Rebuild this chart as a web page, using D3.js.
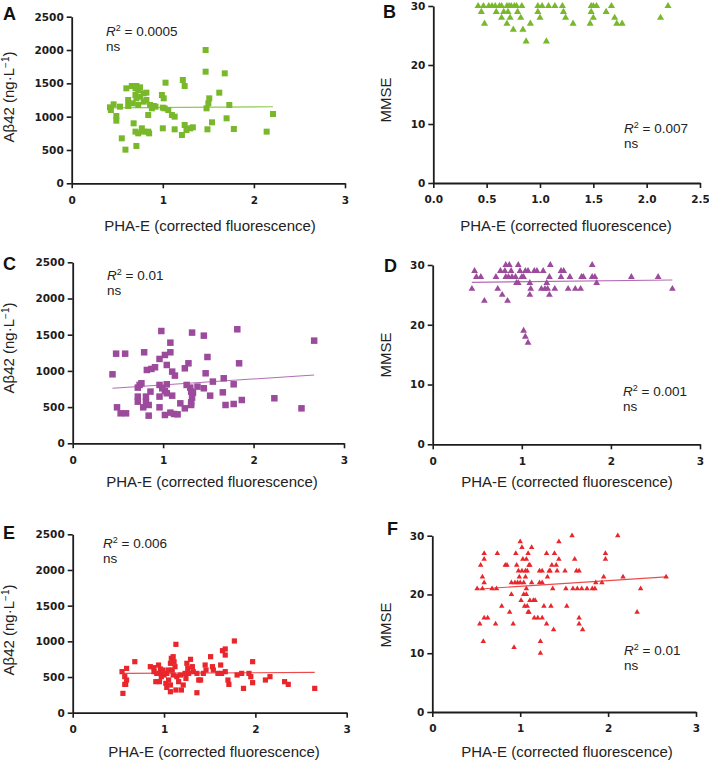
<!DOCTYPE html>
<html><head><meta charset="utf-8">
<script src="https://cdn.jsdelivr.net/npm/d3@7/dist/d3.min.js"></script>
<style>
body{margin:0;background:#fff;}
svg{display:block;}
</style></head>
<body>
<svg id="chart" width="709" height="762"></svg>
<script>
// ---------- DATA ----------
const abTicks = [0, 500, 1000, 1500, 2000, 2500];
const mmseTicks = [0, 10, 20, 30];
const xTicks3 = [0, 1, 2, 3];
const xTicksB = [0, 0.5, 1.0, 1.5, 2.0, 2.5];

const aX = [0.42,0.46,0.43,0.49,0.49,0.55,0.59,0.53,0.60,0.62,0.62,0.66,0.70,0.71,0.73,0.75,0.70,0.71,0.67,0.73,0.68,0.70,0.73,0.71,0.77,0.79,0.75,0.79,0.82,0.79,0.82,0.84,0.84,0.85,0.86,0.90,0.92,0.88,0.99,1.01,1.03,1.00,1.02,1.06,1.10,1.13,1.00,1.13,1.21,1.22,1.24,1.24,1.26,1.30,1.33,1.47,1.47,1.48,1.50,1.51,1.49,1.54,1.62,1.68,1.70,1.73,1.78,2.14,2.21];
const aY = [1140,1185,1100,1010,940,675,505,1150,1425,1250,1160,1460,1425,1460,1400,1440,1325,1275,1200,1175,900,775,750,560,825,775,1300,1350,1360,1225,1250,1025,775,750,1175,1160,1150,1125,1325,1275,1510,1135,1125,1100,1025,1000,825,810,725,1550,1460,875,800,825,840,2000,1675,1125,1200,1275,810,915,1360,1650,975,1175,815,775,1040];
const aTrend = [[0.41, 1132], [2.21, 1148]];

const bX = [0.42,0.47,0.52,0.55,0.58,0.62,0.64,0.69,0.71,0.73,0.76,0.78,0.83,0.98,1.02,1.08,1.14,1.21,1.48,1.50,1.53,1.67,2.20,
            0.45,0.59,0.66,0.70,0.79,0.98,1.22,1.48,1.62,
            0.64,0.72,0.82,1.00,1.24,1.50,1.70,2.13,
            0.48,0.69,0.91,1.31,1.47,1.72,1.77,
            0.75,0.84,
            0.87,1.06];
const bY = [30,30,30,30,30,30,30,30,30,30,30,30,30,30,30,30,30,30,30,30,30,30,30,
            29,29,29,29,29,29,29,29,29,
            28,28,28,28,28,28,28,28,
            27,27,27,27,27,27,27,
            26,26,
            24,24];

const cX = [0.44,0.48,0.58,0.49,0.53,0.59,0.79,0.74,0.76,0.72,0.72,0.72,0.78,0.81,0.81,0.82,0.87,0.91,0.86,0.84,0.84,0.96,0.98,1.02,1.08,1.08,1.04,1.10,1.13,0.96,0.96,0.96,1.04,1.02,1.04,1.10,0.99,1.02,1.08,1.12,1.16,1.19,1.24,1.24,1.28,1.32,1.26,1.30,1.31,1.32,1.31,1.31,1.33,1.38,1.45,1.47,1.45,1.55,1.52,1.49,1.67,1.66,1.69,1.78,1.78,1.82,1.84,1.87,2.23,2.53,2.67];
const cY = [953,1238,1238,497,414,414,1257,806,829,769,645,575,497,575,645,1013,1027,1050,714,529,382,1165,1551,1220,1257,1390,1082,990,935,806,645,497,815,723,691,658,760,391,424,405,400,552,483,1036,1105,1529,806,769,714,631,566,529,700,783,1487,967,760,852,658,1192,898,704,529,815,543,1575,1105,598,622,483,1418];
const cTrend = [[0.44, 760], [2.67, 944]];

const dX = [0.47,0.49,0.54,0.44,0.58,0.71,0.73,0.76,0.78,0.81,0.82,0.86,0.82,0.85,0.84,0.88,0.89,0.93,0.96,0.94,0.96,0.98,1.00,1.02,1.04,1.02,1.04,1.07,1.07,1.09,1.10,1.09,1.14,1.17,1.22,1.24,1.26,1.28,1.29,1.31,1.32,1.31,1.37,1.44,1.47,1.44,1.52,1.54,1.60,1.66,1.67,1.69,1.79,1.79,1.82,1.84,2.23,2.53,2.69];
const dY = [29,28,28,26,24,28,26,29,25,29,30,30,28,28,24,29,28,28,30,27,27,29,28,28,29,19,18,17,29,27,26,25,29,29,26,29,26,27,26,25,30,28,26,29,29,28,26,28,26,26,28,28,30,28,28,27,28,28,26];
const dTrend = [[0.44, 27.1], [2.69, 27.5]];

const eX = [0.54,0.55,0.57,0.59,0.58,0.59,0.57,0.68,0.85,0.89,0.89,0.91,0.92,0.94,0.96,0.97,0.95,0.99,1.00,1.02,1.03,1.05,1.03,1.07,1.07,1.07,1.08,1.09,1.10,1.11,1.12,1.13,1.14,1.13,1.16,1.18,1.19,1.21,1.23,1.25,1.26,1.24,1.29,1.31,1.32,1.36,1.36,1.38,1.40,1.43,1.45,1.51,1.53,1.54,1.59,1.62,1.64,1.67,1.67,1.67,1.63,1.70,1.71,1.77,1.80,1.85,1.87,1.93,1.95,1.97,1.97,2.11,2.16,2.32,2.36,2.65,0.97,1.05,1.10,1.27,1.46];
const eY = [575,271,505,621,397,458,397,715,645,631,575,435,551,668,612,551,435,598,528,411,551,598,355,388,294,692,762,598,528,715,645,958,505,318,435,528,318,388,551,692,621,481,748,645,575,551,280,458,458,551,668,785,645,598,551,668,869,893,808,575,551,458,397,1005,528,551,341,551,505,421,715,458,505,435,397,341,505,458,785,551,598];
const eTrend = [[0.54, 551], [2.65, 565]];

const fX = [0.51,0.54,0.55,0.57,0.57,0.58,0.59,0.59,0.59,0.59,0.63,0.68,0.72,0.73,0.74,0.79,0.83,0.85,0.88,0.90,0.90,0.92,0.93,0.94,0.95,0.96,0.97,0.98,0.99,1.00,1.00,1.01,1.02,1.02,1.03,1.04,1.04,1.05,1.06,1.06,1.07,1.07,1.07,1.08,1.08,1.09,1.09,1.10,1.10,1.11,1.11,1.13,1.13,1.15,1.16,1.17,1.20,1.22,1.22,1.23,1.23,1.25,1.25,1.25,1.27,1.30,1.30,1.31,1.33,1.34,1.35,1.36,1.37,1.38,1.39,1.41,1.42,1.44,1.44,1.51,1.52,1.53,1.59,1.60,1.62,1.64,1.65,1.67,1.67,1.67,1.70,1.71,1.76,1.82,1.85,1.86,1.93,1.95,1.97,1.97,2.11,2.17,2.33,2.37,2.66];
const fY = [21,15,25,21,23,12,27,26,22,16,16,21,15,21,27,18,25,25,17,20,22,15,11,22,27,25,22,24,23,29,22,19,28,24,26,20,22,18,23,24,26,21,20,24,18,17,27,25,17,25,19,28,22,19,16,19,16,24,22,12,10,16,24,22,18,15,27,23,24,24,18,25,21,14,27,25,24,29,26,24,21,18,30,21,26,24,21,24,16,15,21,14,21,21,21,22,22,23,26,27,30,23,17,21,23];
const fTrend = [[0.50, 20.9], [2.66, 23.0]];

// ---------- LAYOUT / STYLE ----------
const GREEN = "#78b82a", PURPLE = "#9c4a9c", RED = "#e8262b";
const yTitleAb = "Aβ42 (ng·L";
const xTitle = "PHA-E (corrected fluorescence)";
const fmtInt = d3.format("d"), fmt1 = d3.format(".1f");

const panels = [
  {letter:"A", lx:3, ly:20, xs:aX, ys:aY, trend:aTrend, xMax:3, xT:xTicks3, xFmt:fmtInt, yMax:2500, yT:abTicks, x0:71.7, x1:345, y0:183.3, y1:16.7, shape:"sq", ms:6, color:GREEN, lineColor:"#8fca52", r2:"0.0005", rx:106, ry:36, yTitle:"ab", ytx:14, yty:97, xtx:210, xty:231},
  {letter:"B", lx:383, ly:18, xs:bX, ys:bY, trend:null, xMax:2.5, xT:xTicksB, xFmt:fmt1, yMax:30, yT:mmseTicks, x0:433.3, x1:700, y0:183, y1:6, shape:"tri", ms:22, color:GREEN, lineColor:GREEN, r2:"0.007", rx:624, ry:133, yTitle:"MMSE", ytx:391, yty:100, xtx:566, xty:231},
  {letter:"C", lx:3, ly:270, xs:cX, ys:cY, trend:cTrend, xMax:3, xT:xTicks3, xFmt:fmtInt, yMax:2500, yT:abTicks, x0:72.7, x1:344, y0:443.3, y1:262.3, shape:"sq", ms:6.5, color:PURPLE, lineColor:"#b46cb4", r2:"0.01", rx:107, ry:280, yTitle:"ab", ytx:14, yty:348, xtx:212, xty:487},
  {letter:"D", lx:384, ly:272, xs:dX, ys:dY, trend:dTrend, xMax:3, xT:xTicks3, xFmt:fmtInt, yMax:30, yT:mmseTicks, x0:432.7, x1:700, y0:444.3, y1:265, shape:"tri", ms:20, color:PURPLE, lineColor:"#b46cb4", r2:"0.001", rx:623, ry:396, yTitle:"MMSE", ytx:391, yty:355, xtx:567, xty:487},
  {letter:"E", lx:3, ly:539, xs:eX, ys:eY, trend:eTrend, xMax:3, xT:xTicks3, xFmt:fmtInt, yMax:2500, yT:abTicks, x0:72.7, x1:346.7, y0:712.7, y1:534.3, shape:"sq", ms:5.2, color:RED, lineColor:"#ec4b4e", r2:"0.006", rx:103, ry:548, yTitle:"ab", ytx:14, yty:630, xtx:214, xty:757},
  {letter:"F", lx:387, ly:535, xs:fX, ys:fY, trend:fTrend, xMax:3, xT:xTicks3, xFmt:fmtInt, yMax:30, yT:mmseTicks, x0:432.3, x1:696, y0:712, y1:535.7, shape:"tri", ms:13, color:RED, lineColor:"#ec4b4e", r2:"0.01", rx:624, ry:655, yTitle:"MMSE", ytx:391, yty:625, xtx:567, xty:757}
];

const svg = d3.select("#chart");
svg.append("rect").attr("width",709).attr("height",762).attr("fill","#fff");

const textFont = "'Liberation Sans', Arial, sans-serif";
const tickFont = "'DejaVu Sans', sans-serif";
const AX = "#1c1c1c";

panels.forEach(p => {
  const g = svg.append("g");
  const x = d3.scaleLinear().domain([0, p.xMax]).range([p.x0, p.x1]);
  const y = d3.scaleLinear().domain([0, p.yMax]).range([p.y0, p.y1]);

  if (p.trend) {
    g.append("line")
      .attr("x1", x(p.trend[0][0])).attr("y1", y(p.trend[0][1]))
      .attr("x2", x(p.trend[1][0])).attr("y2", y(p.trend[1][1]))
      .attr("stroke", p.lineColor).attr("stroke-width", 1.1);
  }

  const pts = p.xs.map((v,i)=>[v, p.ys[i]]);
  if (p.shape === "sq") {
    g.selectAll("rect.pt").data(pts).join("rect")
      .attr("x", d => x(d[0]) - p.ms/2).attr("y", d => y(d[1]) - p.ms/2)
      .attr("width", p.ms).attr("height", p.ms).attr("fill", p.color);
  } else {
    const sym = d3.symbol(d3.symbolTriangle, p.ms);
    g.selectAll("path.pt").data(pts).join("path")
      .attr("transform", d => `translate(${x(d[0])},${y(d[1])})`)
      .attr("d", sym).attr("fill", p.color);
  }

  const ya = g.append("g").attr("transform", `translate(${p.x0},0)`)
    .call(d3.axisLeft(y).tickValues(p.yT).tickFormat(fmtInt).tickSize(5).tickPadding(3).tickSizeOuter(0));
  const xa = g.append("g").attr("transform", `translate(0,${p.y0})`)
    .call(d3.axisBottom(x).tickValues(p.xT).tickFormat(p.xFmt).tickSize(5).tickPadding(8).tickSizeOuter(0));
  [ya, xa].forEach(a => {
    a.select(".domain").attr("stroke", AX).attr("stroke-width", 1.8);
    a.selectAll(".tick line").attr("stroke", AX).attr("stroke-width", 1.6);
    a.selectAll(".tick text").attr("fill", AX).style("font-family", tickFont)
      .style("font-weight", "bold").style("font-size", "10.5px");
  });

  g.append("text").attr("x", p.lx).attr("y", p.ly).text(p.letter)
    .style("font-family", textFont).style("font-weight", "bold").style("font-size", "18px").attr("fill", "#111");

  g.append("text").attr("x", p.xtx).attr("y", p.xty).attr("text-anchor", "middle").text(xTitle)
    .style("font-family", textFont).style("font-size", "15px").attr("fill", "#222");

  const yt = g.append("text").attr("transform", `translate(${p.ytx},${p.yty}) rotate(-90)`)
    .attr("text-anchor", "middle").style("font-family", textFont).style("font-size", "15px").attr("fill", "#222");
  if (p.yTitle === "ab") {
    yt.append("tspan").text(yTitleAb);
    yt.append("tspan").attr("dy", -5).style("font-size", "10px").text("−1");
    yt.append("tspan").attr("dy", 5).text(")");
  } else {
    yt.text(p.yTitle);
  }

  const rt = g.append("text").attr("x", p.rx).attr("y", p.ry)
    .style("font-family", textFont).style("font-size", "13.5px").attr("fill", "#222");
  rt.append("tspan").style("font-style", "italic").text("R");
  rt.append("tspan").attr("dy", -5).style("font-size", "9px").text("2");
  rt.append("tspan").attr("dy", 5).text(" = " + p.r2);
  g.append("text").attr("x", p.rx).attr("y", p.ry + 14.5).text("ns")
    .style("font-family", textFont).style("font-size", "13.5px").attr("fill", "#222");
});
</script>
</body></html>
